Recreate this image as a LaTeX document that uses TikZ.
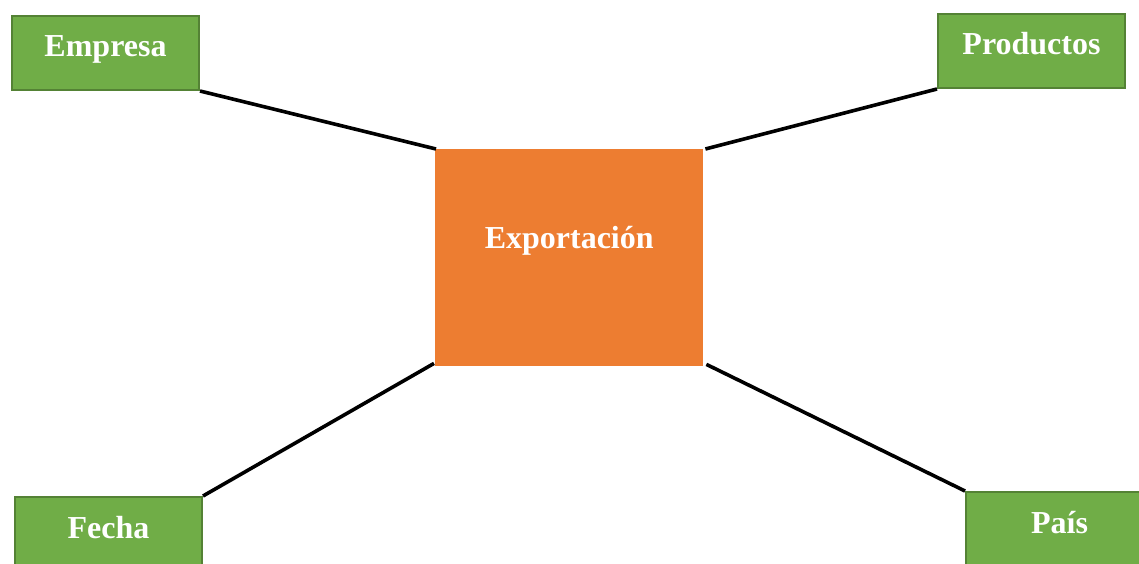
\documentclass[tikz,border=0pt]{standalone}
\usepackage{fontspec}
\setmainfont{Liberation Serif}
\definecolor{boxgreen}{HTML}{70AD47}
\definecolor{boxgreenedge}{HTML}{548235}
\definecolor{boxorange}{HTML}{ED7D31}
\begin{document}
\begin{tikzpicture}[x=1pt,y=-1pt,
  greenbox/.style={draw=boxgreenedge, fill=boxgreen, line width=2pt, inner sep=0pt,
    minimum width=187pt, minimum height=74pt, text=white, anchor=north west,
    font=\fontsize{32}{36}\selectfont\bfseries, text height=41pt, text depth=33pt},
  centerbox/.style={fill=boxorange, inner sep=0pt, minimum width=268pt, minimum height=217pt,
    text=white, anchor=north west, font=\fontsize{32}{36}\selectfont\bfseries,
    text height=99pt, text depth=118pt},
  link/.style={line width=3.6pt, black}]
\useasboundingbox (0,0) rectangle (1139,564);
\fill[white] (0,0) rectangle (1139,564);
\node[centerbox] (exp) at (435,149) {Exportación};
\node[greenbox] (emp) at (11,15) {Empresa};
\node[greenbox] (pro) at (937,13) {Productos};
\node[greenbox] (fec) at (14,496) {Fecha};
\node[greenbox] (pai) at (965,491) {País};
\draw[link] (emp.south east) -- ([xshift=1pt]exp.north west);
\draw[link] ([xshift=2pt]exp.north east) -- (pro.south west);
\draw[link] (fec.north east) -- ([xshift=-1pt,yshift=3pt]exp.south west);
\draw[link] ([xshift=3pt,yshift=2pt]exp.south east) -- (pai.north west);
\end{tikzpicture}
\end{document}
